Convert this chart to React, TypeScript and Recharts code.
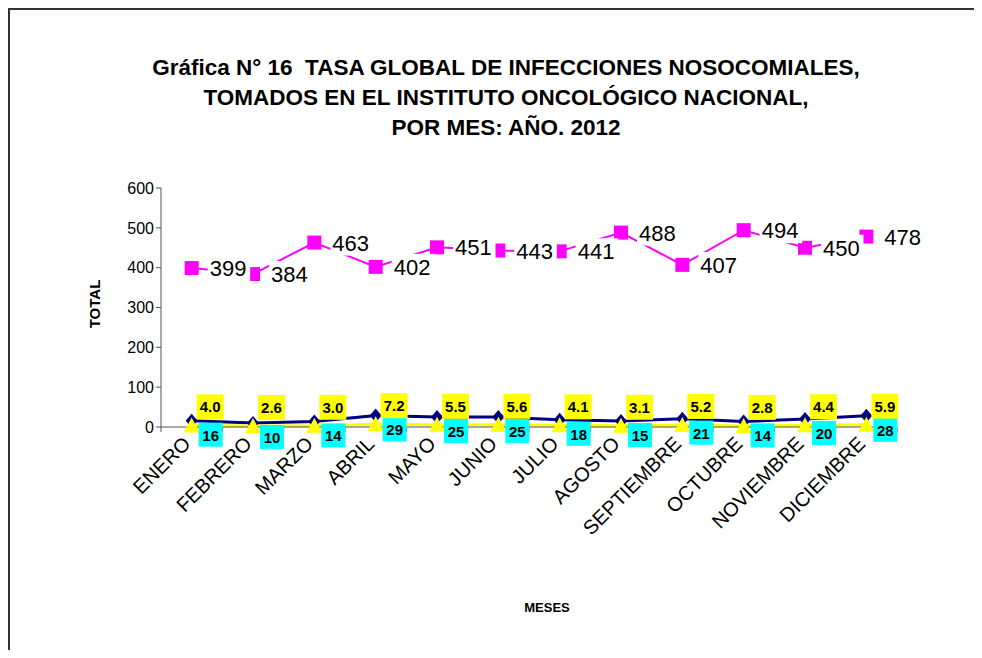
import { LineChart, Line, XAxis, YAxis, LabelList } from 'recharts';

const meses = ['ENERO', 'FEBRERO', 'MARZO', 'ABRIL', 'MAYO', 'JUNIO', 'JULIO', 'AGOSTO', 'SEPTIEMBRE', 'OCTUBRE', 'NOVIEMBRE', 'DICIEMBRE'];
const egresos = [399, 384, 463, 402, 451, 443, 441, 488, 407, 494, 450, 478];
const infecciones = [16, 10, 14, 29, 25, 25, 18, 15, 21, 14, 20, 28];
const tasa = [4.0, 2.6, 3.0, 7.2, 5.5, 5.6, 4.1, 3.1, 5.2, 2.8, 4.4, 5.9];
const yTicks = [0, 100, 200, 300, 400, 500, 600];

const data = meses.map((mes, i) => ({
    mes,
    egresos: egresos[i],
    infecciones: infecciones[i],
    tasa: tasa[i],
}));

const FONT = '"Liberation Sans", Arial, sans-serif';
const PLOT_W = 736;
const BAND = PLOT_W / meses.length;

const SquareDot = (props: any) => {
    const { cx, cy } = props;
    if (cx == null || cy == null) return null;
    return <rect x={cx - 7} y={cy - 7} width={14} height={14} fill="#FF00FF" />;
};

const DiamondDot = (props: any) => {
    const { cx, cy } = props;
    if (cx == null || cy == null) return null;
    return <path d={`M${cx},${cy - 7} L${cx + 6},${cy} L${cx},${cy + 7} L${cx - 6},${cy} Z`} fill="#000080" />;
};

const TriangleDot = (props: any) => {
    const { cx, cy } = props;
    if (cx == null || cy == null) return null;
    return <path d={`M${cx},${cy - 8} L${cx + 8},${cy + 7} L${cx - 8},${cy + 7} Z`} fill="#FFFF00" />;
};

const MagentaLabel = (props: any) => {
    const { x, y, value } = props;
    const w = String(value).length * 12.5 + 5;
    return (
        <g>
            <rect x={x + 16} y={y - 13} width={w} height={26} fill="#fff" />
            <text x={x + 18} y={y + 8} fontSize={22} fontFamily={FONT} fill="#000">{value}</text>
        </g>
    );
};

const CyanLabel = (props: any) => {
    const { x, y, value } = props;
    return (
        <g>
            <rect x={x + 7} y={y + 2} width={24} height={24} fill="#00FFFF" />
            <text x={x + 19} y={y + 20} textAnchor="middle" fontSize={15} fontWeight="bold" fontFamily={FONT} fill="#000">{value}</text>
        </g>
    );
};

const YellowLabel = (props: any) => {
    const { x, y, value } = props;
    return (
        <g>
            <rect x={x + 5} y={y - 31} width={27} height={25} fill="#FFFF00" />
            <text x={x + 18.5} y={y - 13} textAnchor="middle" fontSize={15} fontWeight="bold" fontFamily={FONT} fill="#000">{Number(value).toFixed(1)}</text>
        </g>
    );
};

const MesTick = (props: any) => {
    const { x, y, payload, index } = props;
    return (
        <g>
            {index === 0 && <line x1={x - BAND / 2} y1={y - 8} x2={x - BAND / 2} y2={y - 3} stroke="#555" />}
            <line x1={x + BAND / 2} y1={y - 8} x2={x + BAND / 2} y2={y - 3} stroke="#555" />
            <text
                x={x}
                y={y + 10}
                textAnchor="end"
                fontSize={20}
                fontFamily={FONT}
                fill="#000"
                transform={`rotate(-45, ${x}, ${y + 10})`}
            >
                {payload.value}
            </text>
        </g>
    );
};

export default function App() {
    return (
        <div style={{ position: 'relative', width: 972, height: 640, borderTop: '2px solid #333', borderLeft: '2px solid #333', fontFamily: FONT, overflow: 'hidden' }}>
            <div style={{ position: 'absolute', top: 43, left: 0, width: 992, textAlign: 'center', fontWeight: 'bold', fontSize: 22.5, lineHeight: '30px' }}>
                Gráfica N° 16&nbsp; TASA GLOBAL DE INFECCIONES NOSOCOMIALES,<br />
                TOMADOS EN EL INSTITUTO ONCOLÓGICO NACIONAL,<br />
                POR MES: AÑO. 2012
            </div>
            <div style={{ position: 'absolute', left: 55, top: 285, width: 60, lineHeight: '18px', textAlign: 'center', fontWeight: 'bold', fontSize: 15, transform: 'rotate(-90deg)' }}>
                TOTAL
            </div>
            <div style={{ position: 'absolute', left: 497, top: 590, width: 80, lineHeight: '16px', textAlign: 'center', fontWeight: 'bold', fontSize: 13 }}>
                MESES
            </div>
            <div style={{ position: 'absolute', left: 0, top: 0 }}>
                <LineChart
                    width={972}
                    height={638}
                    data={data}
                    margin={{ top: 178, right: 85, left: 99, bottom: 101 }}
                >
                    <XAxis
                        dataKey="mes"
                        interval={0}
                        height={120}
                        padding={{ left: BAND / 2, right: BAND / 2 }}
                        stroke="#555"
                        tickLine={false}
                        tick={<MesTick />}
                    />
                    <YAxis
                        domain={[0, 600]}
                        ticks={yTicks}
                        width={52}
                        stroke="#555"
                        tickSize={5}
                        tick={{ fontSize: 16, fill: '#000', fontFamily: FONT }}
                    />
                    <Line dataKey="egresos" stroke="#FF00FF" strokeWidth={2} dot={<SquareDot />} isAnimationActive={false}>
                        <LabelList dataKey="egresos" content={<MagentaLabel />} />
                    </Line>
                    <Line dataKey="infecciones" stroke="#000080" strokeWidth={3} dot={<DiamondDot />} isAnimationActive={false}>
                        <LabelList dataKey="infecciones" content={<CyanLabel />} />
                    </Line>
                    <Line dataKey="tasa" stroke="#FFFF00" strokeWidth={3} dot={<TriangleDot />} isAnimationActive={false}>
                        <LabelList dataKey="tasa" content={<YellowLabel />} />
                    </Line>
                </LineChart>
            </div>
        </div>
    );
}
